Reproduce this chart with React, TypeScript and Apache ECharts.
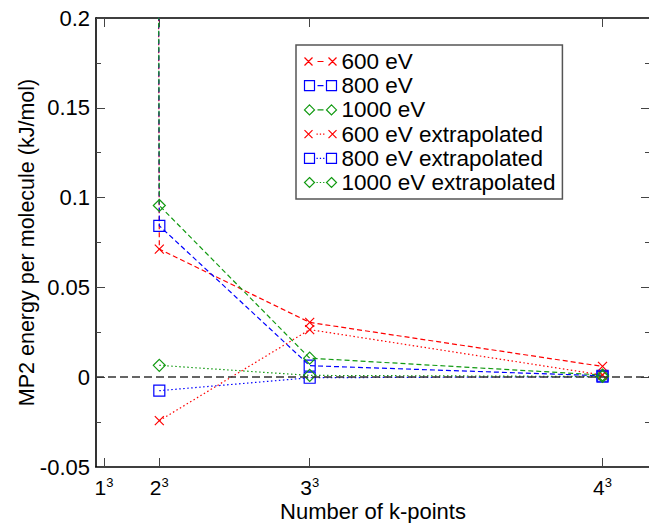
import React, { useEffect, useRef } from "react";
import * as echarts from "echarts";

// k-point meshes (n^3) and their tick labels
const kBases = [1, 2, 3, 4];
const kPoints = [1, 8, 27, 64];
const kPointsExtrap = [8, 27, 64];

// MP2 energy per molecule (kJ/mol)
const e600 = [9.8, 0.0713, 0.0305, 0.006];
const e800 = [9.6, 0.0843, 0.0064, 0.0008];
const e1000 = [9.4, 0.0956, 0.0106, 0.0012];
const e600Extrap = [-0.0242, 0.0265, 0.0012];
const e800Extrap = [-0.0075, -0.0003, 0.0003];
const e1000Extrap = [0.0066, 0.001, 0.0004];

const RED = "#ff0000";
const BLUE = "#0000ff";
const GREEN = "#129a12";
const FONT = "'Liberation Sans', Arial, sans-serif";

const SYM_X = "path://M0,0L10,10M0,10L10,0";
const SYM_SQ = "path://M0,0L10,0L10,10L0,10Z";
const SYM_DIA = "path://M5,0L10,5L5,10L0,5Z";

const DASH_MID = "M13,5L19,5";
const DOT_MID = "M12,5L13.3,5M15.3,5L16.6,5M18.6,5L19.9,5";
const legX = (mid: string) => `path://M0,1L8,9M0,9L8,1${mid}M24,1L32,9M24,9L32,1`;
const legSq = (mid: string) => `path://M0,0L10,0L10,10L0,10Z${mid}M22,0L32,0L32,10L22,10Z`;
const legDia = (mid: string) => `path://M5,0L10,5L5,10L0,5Z${mid}M27,0L32,5L27,10L22,5Z`;

export default function App() {
  const ref = useRef<HTMLDivElement>(null);
  useEffect(() => {
    if (!ref.current) return;
    const chart = echarts.init(ref.current, null, { renderer: "svg" });

    const mk = (
      name: string,
      xs: number[],
      ys: number[],
      color: string,
      symbol: string,
      size: number,
      dash: number[],
      extra: any = {}
    ) => ({
      name,
      type: "line",
      data: xs.map((x, i) => [x, ys[i]]),
      symbol,
      symbolSize: size,
      showAllSymbol: true,
      clip: true,
      itemStyle: { color: "none", borderColor: color, borderWidth: 1.2 },
      lineStyle: { color, width: 1.2, type: dash },
      emphasis: { disabled: true },
      ...extra,
    });

    const series = [
      mk("600 eV", kPoints, e600, RED, SYM_X, 9, [5, 3], {
        markLine: {
          silent: true,
          symbol: "none",
          label: { show: false },
          lineStyle: { color: "#333", type: [8, 4], width: 1.6 },
          data: [{ yAxis: 0 }],
        },
      }),
      mk("800 eV", kPoints, e800, BLUE, SYM_SQ, 11, [5, 3]),
      mk("1000 eV", kPoints, e1000, GREEN, SYM_DIA, 12, [5, 3]),
      mk("600 eV extrapolated", kPointsExtrap, e600Extrap, RED, SYM_X, 9, [1.5, 2.5]),
      mk("800 eV extrapolated", kPointsExtrap, e800Extrap, BLUE, SYM_SQ, 11, [1.5, 2.5]),
      mk("1000 eV extrapolated", kPointsExtrap, e1000Extrap, GREEN, SYM_DIA, 12, [1.5, 2.5]),
    ];

    const legendItem = (name: string, icon: string, color: string) => ({
      name,
      icon,
      itemStyle: { color: "none", borderColor: color, borderWidth: 1.2 },
    });

    const tickStyle = { color: "#444", width: 1 };
    const axisLineStyle = { color: "#000", width: 1.6 };

    chart.setOption({
      animation: false,
      backgroundColor: "#fff",
      textStyle: { fontFamily: FONT },
      grid: {
        left: 96,
        top: 18,
        width: 554,
        height: 449,
        containLabel: false,
        outerBoundsMode: "none",
      },
      legend: {
        left: 296,
        top: 45,
        orient: "vertical",
        itemWidth: 32,
        itemHeight: 10,
        itemGap: 1.2,
        padding: [5, 7, 5, 6],
        borderColor: "#555",
        borderWidth: 1.5,
        selectedMode: false,
        textStyle: { fontSize: 22.5, color: "#000", fontFamily: FONT, lineHeight: 22 },
        data: [
          legendItem("600 eV", legX(DASH_MID), RED),
          legendItem("800 eV", legSq(DASH_MID), BLUE),
          legendItem("1000 eV", legDia(DASH_MID), GREEN),
          legendItem("600 eV extrapolated", legX(DOT_MID), RED),
          legendItem("800 eV extrapolated", legSq(DOT_MID), BLUE),
          legendItem("1000 eV extrapolated", legDia(DOT_MID), GREEN),
        ],
      },
      xAxis: [
        {
          type: "value",
          min: 0,
          max: 70,
          position: "bottom",
          name: "Number of k-points",
          nameLocation: "middle",
          nameGap: 33,
          nameMoveOverlap: false,
          nameTextStyle: { fontSize: 22, color: "#000", fontFamily: FONT, lineHeight: 22 },
          axisLine: { show: true, onZero: false, lineStyle: axisLineStyle },
          axisTick: {
            show: true,
            inside: true,
            length: 9,
            customValues: kPoints,
            lineStyle: tickStyle,
          },
          axisLabel: {
            show: true,
            customValues: kPoints,
            margin: 9,
            color: "#000",
            formatter: (v: number) => {
              const i = kPoints.indexOf(Math.round(v));
              return `{b|${i >= 0 ? kBases[i] : ""}}{s|3}`;
            },
            rich: {
              b: { fontSize: 21, lineHeight: 22, fontFamily: FONT, color: "#000" },
              s: { fontSize: 13, lineHeight: 6, verticalAlign: "top", fontFamily: FONT, color: "#000" },
            },
          },
          splitLine: { show: false },
        },
        {
          type: "value",
          min: 0,
          max: 70,
          position: "top",
          axisLine: { show: true, onZero: false, lineStyle: axisLineStyle },
          axisTick: {
            show: true,
            inside: true,
            length: 9,
            customValues: kPoints,
            lineStyle: tickStyle,
          },
          axisLabel: { show: false },
          splitLine: { show: false },
        },
      ],
      yAxis: [
        {
          type: "value",
          min: -0.05,
          max: 0.2,
          interval: 0.05,
          position: "left",
          name: "MP2 energy per molecule (kJ/mol)",
          nameLocation: "middle",
          nameGap: 58,
          nameMoveOverlap: false,
          nameTextStyle: { fontSize: 21.5, color: "#000", fontFamily: FONT, lineHeight: 22 },
          axisLine: { show: true, onZero: false, lineStyle: axisLineStyle },
          axisTick: { show: true, inside: true, length: 9, lineStyle: tickStyle },
          minorTick: { show: true, splitNumber: 2, length: 5, lineStyle: tickStyle },
          axisLabel: { fontSize: 22, color: "#000", margin: 6, fontFamily: FONT },
          splitLine: { show: false },
          minorSplitLine: { show: false },
        },
        {
          type: "value",
          min: -0.05,
          max: 0.2,
          interval: 0.05,
          position: "right",
          axisLine: { show: true, onZero: false, lineStyle: axisLineStyle },
          axisTick: { show: true, inside: true, length: 9, lineStyle: tickStyle },
          minorTick: { show: true, splitNumber: 2, length: 5, lineStyle: tickStyle },
          axisLabel: { show: false },
          splitLine: { show: false },
          minorSplitLine: { show: false },
        },
      ],
      series,
    });

    return () => chart.dispose();
  }, []);

  return (
    <div
      ref={ref}
      style={{ position: "absolute", left: 0, top: 0, width: 649, height: 523, background: "#fff" }}
    />
  );
}
